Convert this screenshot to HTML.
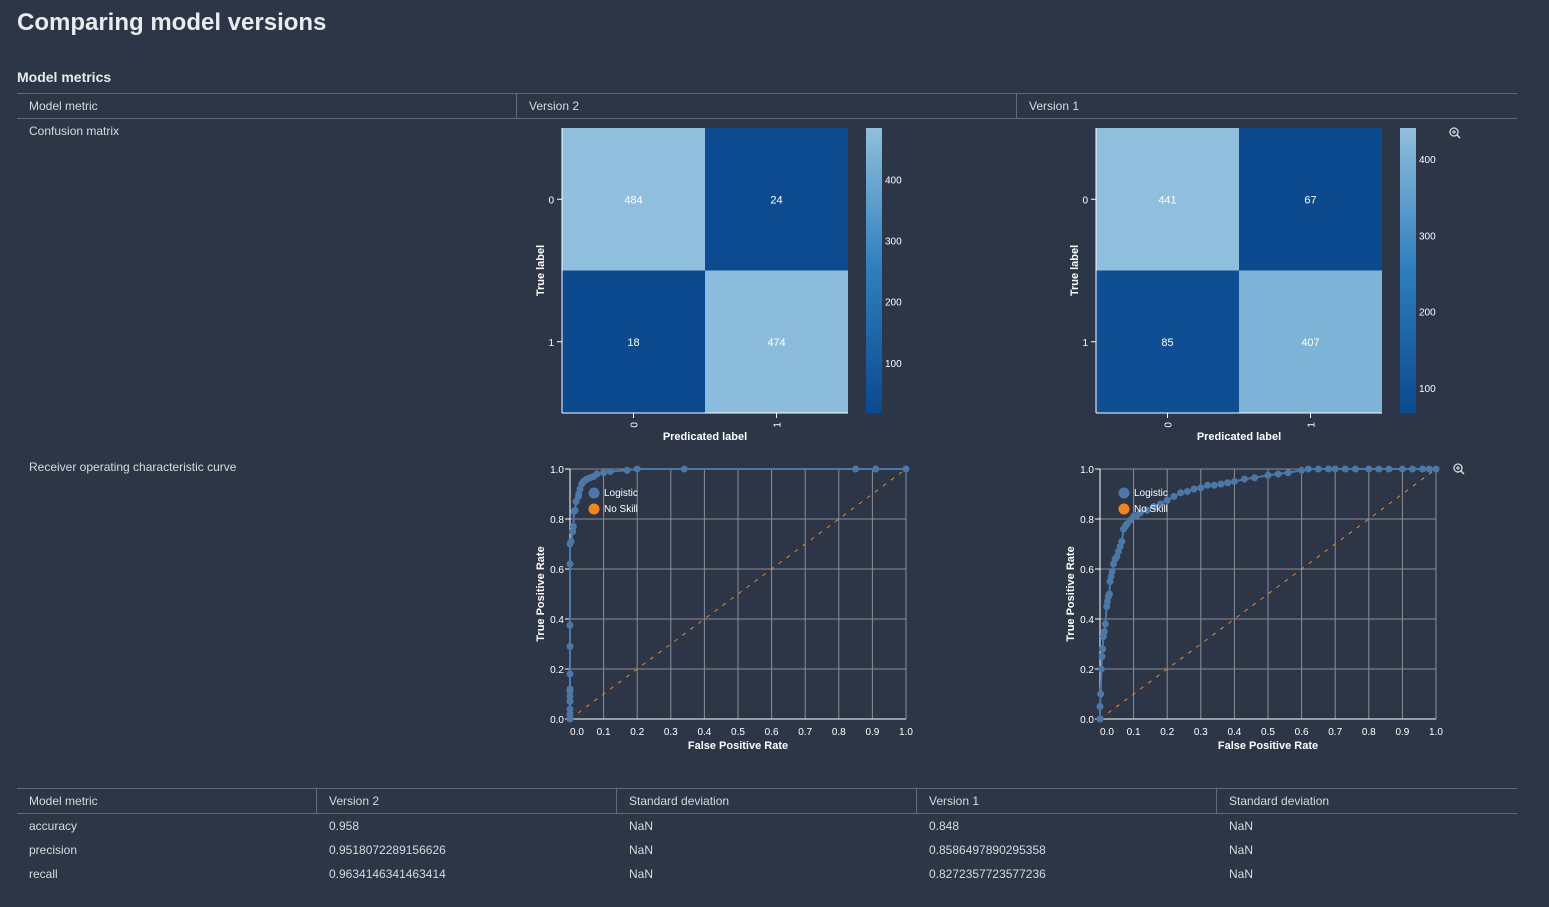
<!DOCTYPE html>
<html><head><meta charset="utf-8"><style>
body{margin:0;width:1549px;height:907px;background:#2c3647;font-family:"Liberation Sans",sans-serif;color:#d5dbdb;position:relative;overflow:hidden}
.a{position:absolute;white-space:nowrap}
h1{position:absolute;left:17px;top:9px;margin:0;font-size:24px;font-weight:bold;color:#e9ebed}
h2{position:absolute;left:17px;top:69px;margin:0;font-size:14px;font-weight:bold;color:#e9ebed}
.hl{position:absolute;height:1px;background:#5f6b7a}
.vl{position:absolute;width:1px;background:#5f6b7a}
.t{font-size:12px;color:#d5dbdb}
svg text{font-family:"Liberation Sans",sans-serif}
</style></head><body>
<h1>Comparing model versions</h1>
<h2>Model metrics</h2>
<div class="hl" style="left:17px;top:93px;width:1500px"></div>
<div class="hl" style="left:17px;top:118px;width:1500px"></div>
<div class="vl" style="left:516px;top:93px;height:25px"></div>
<div class="vl" style="left:1016px;top:93px;height:25px"></div>
<div class="a t" style="left:29px;top:99px">Model metric</div>
<div class="a t" style="left:529px;top:99px">Version 2</div>
<div class="a t" style="left:1029px;top:99px">Version 1</div>
<div class="a t" style="left:29px;top:124px">Confusion matrix</div>
<div class="a t" style="left:29px;top:460px">Receiver operating characteristic curve</div>

<div class="hl" style="left:17px;top:788px;width:1500px"></div>
<div class="hl" style="left:17px;top:813px;width:1500px"></div>
<div class="vl" style="left:316px;top:788px;height:25px"></div>
<div class="vl" style="left:616px;top:788px;height:25px"></div>
<div class="vl" style="left:916px;top:788px;height:25px"></div>
<div class="vl" style="left:1216px;top:788px;height:25px"></div>
<div id="tbl"></div>

<svg id="chart" width="1549" height="907" style="position:absolute;left:0;top:0"></svg>

<script>
// ---- data ----
const cmLabels=["0","1"];
const cmV2=[[484,24],[18,474]];
const cmV1=[[441,67],[85,407]];
const cbTicksV2=[100,200,300,400];
const cbTicksV1=[100,200,300,400];
const rocTicks=[0,0.1,0.2,0.3,0.4,0.5,0.6,0.7,0.8,0.9,1.0];
const rocYTicks=[0,0.2,0.4,0.6,0.8,1.0];
const rocV2Fpr=[0,0,0,0,0,0,0,0,0,0,0,0,0.003,0.008,0.01,0.012,0.015,0.018,0.025,0.026,0.03,0.035,0.04,0.045,0.05,0.06,0.07,0.08,0.1,0.12,0.17,0.2,0.34,0.85,0.91,1.0];
const rocV2Tpr=[0,0.02,0.04,0.07,0.09,0.11,0.12,0.18,0.29,0.375,0.62,0.70,0.71,0.75,0.77,0.83,0.835,0.87,0.89,0.90,0.92,0.94,0.95,0.955,0.96,0.965,0.97,0.98,0.985,0.99,0.995,1.0,1.0,1.0,1.0,1.0];
const rocV1Fpr=[0,0,0.002,0.004,0.006,0.008,0.01,0.013,0.016,0.02,0.022,0.025,0.028,0.03,0.033,0.036,0.04,0.045,0.05,0.055,0.06,0.065,0.07,0.075,0.08,0.09,0.1,0.11,0.12,0.14,0.16,0.18,0.2,0.22,0.24,0.26,0.28,0.3,0.32,0.34,0.36,0.38,0.4,0.43,0.46,0.5,0.53,0.56,0.6,0.62,0.65,0.68,0.7,0.73,0.76,0.8,0.83,0.86,0.9,0.93,0.96,0.98,1.0];
const rocV1Tpr=[0,0.05,0.1,0.2,0.25,0.28,0.33,0.35,0.38,0.45,0.47,0.49,0.5,0.55,0.57,0.59,0.62,0.64,0.65,0.67,0.69,0.71,0.76,0.77,0.78,0.795,0.81,0.815,0.825,0.835,0.85,0.86,0.875,0.89,0.905,0.91,0.92,0.925,0.935,0.935,0.94,0.945,0.95,0.96,0.965,0.975,0.98,0.985,0.995,1.0,1.0,1.0,1.0,1.0,1.0,1.0,1.0,1.0,1.0,1.0,1.0,1.0,1.0];
const tblHead=["Model metric","Version 2","Standard deviation","Version 1","Standard deviation"];
const tblRows=[["accuracy","0.958","NaN","0.848","NaN"],["precision","0.9518072289156626","NaN","0.8586497890295358","NaN"],["recall","0.9634146341463414","NaN","0.8272357723577236","NaN"]];

const NS="http://www.w3.org/2000/svg";
const svg=document.getElementById('chart');
function el(tag,attrs,parent,txt){const e=document.createElementNS(NS,tag);for(const k in attrs)e.setAttribute(k,attrs[k]);if(txt!==undefined)e.textContent=txt;(parent||svg).appendChild(e);return e;}

// table
const tbl=document.getElementById('tbl');
tblHead.forEach((h,i)=>{const d=document.createElement('div');d.className='a t';d.style.left=(29+300*i)+'px';d.style.top='794px';d.textContent=h;


tbl.appendChild(d);});
tblRows.forEach((r,ri)=>r.forEach((c,i)=>{const d=document.createElement('div');d.className='a t';d.style.left=(29+300*i)+'px';d.style.top=(819+24*ri)+'px';d.textContent=c;


tbl.appendChild(d);}));

function lerpColor(t){ // t 0 (min) -> 1 (max)
  const stops=[[0,[11,74,143]],[0.5,[46,126,188]],[1,[143,191,221]]];
  let a=stops[0],b=stops[1];if(t>0.5){a=stops[1];b=stops[2];}
  const u=(t-a[0])/(b[0]-a[0]);
  const c=a[1].map((v,i)=>Math.round(v+(b[1][i]-v)*u));
  return `rgb(${c[0]},${c[1]},${c[2]})`;
}

function confusion(ox,cbx,vals,cbTicks,name){
  const g=el('g',{});
  
  
  const x0=ox,y0=128,w=286,h=285,cw=w/2,ch=h/2;
  const flat=vals.flat();const mn=Math.min(...flat),mx=Math.max(...flat);
  vals.forEach((row,r)=>row.forEach((v,c)=>{
    const rc=el('rect',{x:x0+c*cw,y:y0+r*ch,width:cw,height:ch,fill:lerpColor((v-mn)/(mx-mn))},g);
    
    
    el('text',{x:x0+c*cw+cw/2,y:y0+r*ch+ch/2+4,'text-anchor':'middle','font-size':11,fill:'#fff'},g,v);
  }));
  el('line',{x1:x0,y1:y0,x2:x0,y2:y0+h,stroke:'#fff'},g);
  el('line',{x1:x0,y1:y0+h,x2:x0+w,y2:y0+h,stroke:'#fff'},g);
  cmLabels.forEach((l,i)=>{
    const yy=y0+i*ch+ch/2;el('line',{x1:x0-5,y1:yy,x2:x0,y2:yy,stroke:'#fff'},g);
    el('text',{x:x0-8,y:yy+4,'text-anchor':'end','font-size':10,fill:'#fff'},g,l);
    const xx=x0+i*cw+cw/2;el('line',{x1:xx,y1:y0+h,x2:xx,y2:y0+h+5,stroke:'#fff'},g);
    el('text',{x:xx+4,y:y0+h+9,'text-anchor':'start','font-size':10,fill:'#fff',transform:`rotate(-90 ${xx+4} ${y0+h+9})`},g,l).setAttribute('text-anchor','end');
  });
  el('text',{x:x0+w/2,y:440,'text-anchor':'middle','font-size':11,'font-weight':'bold',fill:'#fff'},g,'Predicated label');
  el('text',{x:0,y:0,'text-anchor':'middle','font-size':11,'font-weight':'bold',fill:'#fff',transform:`translate(${x0-18},${y0+h/2}) rotate(-90)`},g,'True label');
  // colorbar
  const gid='grad'+name;const defs=el('defs',{},g);const lg=el('linearGradient',{id:gid,x1:0,y1:1,x2:0,y2:0},defs);
  for(let i=0;i<=10;i++)el('stop',{offset:i/10,'stop-color':lerpColor(i/10)},lg);
  const cb=el('rect',{x:cbx,y:y0,width:16,height:h,fill:`url(#${gid})`},g);
  
  
  cbTicks.forEach(t=>{const yy=y0+h-(t-mn)/(mx-mn)*h;el('text',{x:cbx+19,y:yy+4,'font-size':10,fill:'#fff'},g,t);});
}
confusion(562,866,cmV2,cbTicksV2,'confusion-matrix-v2');
confusion(1096,1400,cmV1,cbTicksV1,'confusion-matrix-v1');

function roc(ox,fpr,tpr,name){
  const g=el('g',{});
  
  
  const x0=ox,x1=ox+336,yT=469,yB=719;
  const sx=v=>x0+v*(x1-x0),sy=v=>yB-v*(yB-yT);
  rocTicks.forEach((t,i)=>{el('line',{x1:sx(t),y1:yT,x2:sx(t),y2:yB,stroke:'#8a8f96','stroke-width':1},g);
    el('text',{x:sx(t)+(i===0?7:0),y:yB+16,'text-anchor':'middle','font-size':10,fill:'#fff'},g,t.toFixed(1));});
  rocYTicks.forEach(t=>{el('line',{x1:x0,y1:sy(t),x2:x1,y2:sy(t),stroke:'#8a8f96','stroke-width':1},g);
    el('line',{x1:x0-5,y1:sy(t),x2:x0,y2:sy(t),stroke:'#fff'},g);
    el('text',{x:x0-6,y:sy(t)+4,'text-anchor':'end','font-size':10,fill:'#fff'},g,t.toFixed(1));});
  el('line',{x1:x0,y1:yT,x2:x0,y2:yB,stroke:'#fff'},g);
  el('line',{x1:x0,y1:yB,x2:x1,y2:yB,stroke:'#fff'},g);
  const ns=el('line',{x1:sx(0),y1:sy(0),x2:sx(1),y2:sy(1),stroke:'#f58518','stroke-width':1,'stroke-dasharray':'4,6'},g);
  
  
  const pl=el('polyline',{points:fpr.map((f,i)=>sx(f)+','+sy(tpr[i])).join(' '),fill:'none',stroke:'#4c78a8','stroke-width':2},g);
  
  
  fpr.forEach((f,i)=>{const c=el('circle',{cx:sx(f),cy:sy(tpr[i]),r:3.5,fill:'#4c78a8'},g);
    
    });
  el('circle',{cx:x0+24,cy:493,r:5.5,fill:'#4c78a8'},g);
  el('text',{x:x0+34,y:496,'font-size':10,fill:'#fff'},g,'Logistic');
  el('circle',{cx:x0+24,cy:509,r:5.5,fill:'#f58518'},g);
  el('text',{x:x0+34,y:512,'font-size':10,fill:'#fff'},g,'No Skill');
  el('text',{x:(x0+x1)/2,y:749,'text-anchor':'middle','font-size':11,'font-weight':'bold',fill:'#fff'},g,'False Positive Rate');
  el('text',{x:0,y:0,'text-anchor':'middle','font-size':11,'font-weight':'bold',fill:'#fff',transform:`translate(${x0-26},${(yT+yB)/2}) rotate(-90)`},g,'True Positive Rate');
}
roc(570,rocV2Fpr,rocV2Tpr,'roc-chart-v2');
roc(1100,rocV1Fpr,rocV1Tpr,'roc-chart-v1');

function zoomIcon(x,y,name){const g=el('g',{transform:`translate(${x},${y})`});
  
  
  el('circle',{cx:4,cy:4,r:4,fill:'none',stroke:'#d5dbdb','stroke-width':1.3},g);
  el('line',{x1:7,y1:7,x2:10,y2:10,stroke:'#d5dbdb','stroke-width':1.5},g);
  el('line',{x1:2,y1:4,x2:6,y2:4,stroke:'#d5dbdb','stroke-width':1.1},g);
  el('line',{x1:4,y1:2,x2:4,y2:6,stroke:'#d5dbdb','stroke-width':1.1},g);}
zoomIcon(1450,128,'zoom-confusion-icon');
zoomIcon(1454,464,'zoom-roc-icon');
</script>
</body></html>
